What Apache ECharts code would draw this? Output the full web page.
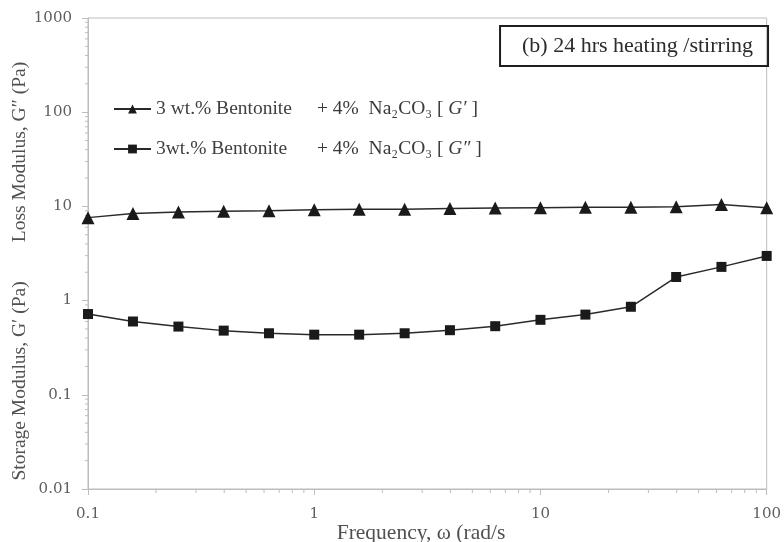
<!DOCTYPE html>
<html>
<head>
<meta charset="utf-8">
<script src="https://cdn.jsdelivr.net/npm/echarts@6/dist/echarts.min.js"></script>
<style>
  html, body { margin: 0; padding: 0; background: #fff; }
  #chart { width: 784px; height: 542px; }
</style>
</head>
<body>
<div id="chart"></div>
<script>
// Angular frequency sweep, rad/s (5 points per decade)
const frequency = [0.1, 0.158, 0.251, 0.398, 0.631, 1, 1.58, 2.51, 3.98, 6.31, 10, 15.8, 25.1, 39.8, 63.1, 100];
// 3 wt.% bentonite + 4% Na2CO3, after 24 hrs heating / stirring
const gPrime  = [7.6, 8.4, 8.7, 8.9, 9.0, 9.2, 9.3, 9.3, 9.5, 9.6, 9.7, 9.8, 9.8, 9.9, 10.5, 9.7];
const gDouble = [0.72, 0.60, 0.53, 0.48, 0.45, 0.435, 0.435, 0.45, 0.485, 0.535, 0.625, 0.71, 0.86, 1.78, 2.28, 2.98];

const seriesNames = ['3 wt.% Bentonite', '3wt.% Bentonite'];
const seriesTags  = ['G\u2032', 'G\u2033'];
const xTicks = [0.1, 1, 10, 100];
const yTicks = [0.01, 0.1, 1, 10, 100, 1000];

const SERIF = '"Liberation Serif", "Times New Roman", serif';
const NUM = '"DejaVu Serif", serif';

const chart = echarts.init(document.getElementById('chart'));

function pairs(xs, ys) { return xs.map((x, i) => [x, ys[i]]); }

const option = {
  backgroundColor: '#fff',
  animation: false,
  grid: { left: 88, right: 16, top: 18, bottom: 53, show: true, borderColor: '#bdbdbd', borderWidth: 1 },
  title: {
    text: '(b) 24 hrs heating /stirring',
    right: 16, top: 26,
    padding: [8, 15, 8, 22],
    borderWidth: 2, borderColor: '#1e1e1e',
    textStyle: { fontFamily: SERIF, fontSize: 22, lineHeight: 24, fontWeight: 'normal', color: '#2b2b2b' }
  },
  legend: {
    orient: 'vertical',
    left: 113, top: 98,
    padding: 0,
    itemWidth: 37, itemHeight: 11,
    itemGap: 18,
    data: seriesNames,
    formatter: function (name) {
      const i = seriesNames.indexOf(name);
      return '{a|' + name + '}{b|+ 4%  Na\u2082CO\u2083 [ }{g|' + seriesTags[i] + '}{b| ]}';
    },
    textStyle: {
      fontFamily: SERIF, fontSize: 19.5, color: '#404040', lineHeight: 22,
      rich: {
        a: { fontFamily: SERIF, fontSize: 19.5, color: '#404040', width: 161 },
        b: { fontFamily: SERIF, fontSize: 19.5, color: '#3a3a3a' },
        g: { fontFamily: SERIF, fontSize: 19.5, color: '#3a3a3a', fontStyle: 'italic' }
      }
    }
  },
  xAxis: {
    type: 'log', logBase: 10, min: 0.1, max: 100,
    axisLine: { show: true, lineStyle: { color: '#bdbdbd', width: 1 } },
    axisTick: { show: true, length: 6, lineStyle: { color: '#bdbdbd' } },
    splitLine: { show: false },
    axisLabel: {
      margin: 18, color: '#5e5e5e', fontFamily: NUM, fontSize: 15,
      formatter: v => String(+v.toPrecision(3))
    }
  },
  yAxis: {
    type: 'log', logBase: 10, min: 0.01, max: 1000,
    axisLine: { show: true, lineStyle: { color: '#bdbdbd', width: 1 } },
    axisTick: { show: true, length: 6, lineStyle: { color: '#bdbdbd' } },
    splitLine: { show: false },
    axisLabel: {
      margin: 16, color: '#5e5e5e', fontFamily: NUM, fontSize: 15,
      formatter: v => String(+v.toPrecision(3))
    }
  },
  series: [
    {
      name: seriesNames[0], type: 'line', data: pairs(frequency, gPrime),
      symbol: 'triangle', symbolSize: 13,
      lineStyle: { color: '#2a2a2a', width: 1.5 },
      itemStyle: { color: '#1a1a1a' }
    },
    {
      name: seriesNames[1], type: 'line', data: pairs(frequency, gDouble),
      symbol: 'rect', symbolSize: 10,
      lineStyle: { color: '#2a2a2a', width: 1.5 },
      itemStyle: { color: '#1a1a1a' }
    }
  ]
};
chart.setOption(option);

// Log-scale minor ticks (2..9 within each decade) and axis titles
const graphics = [];
const tickColor = '#bdbdbd';
const x0 = chart.convertToPixel({ gridIndex: 0 }, [xTicks[0], yTicks[0]]);
for (let d = 0; d < xTicks.length - 1; d++) {
  for (let m = 2; m <= 9; m++) {
    const p = chart.convertToPixel({ gridIndex: 0 }, [xTicks[d] * m, yTicks[0]]);
    graphics.push({ type: 'line', silent: true,
      shape: { x1: p[0], y1: x0[1], x2: p[0], y2: x0[1] + 4 },
      style: { stroke: tickColor, lineWidth: 1 } });
  }
}
for (let d = 0; d < yTicks.length - 1; d++) {
  for (let m = 2; m <= 9; m++) {
    const p = chart.convertToPixel({ gridIndex: 0 }, [xTicks[0], yTicks[d] * m]);
    graphics.push({ type: 'line', silent: true,
      shape: { x1: x0[0] - 3, y1: p[1], x2: x0[0], y2: p[1] },
      style: { stroke: tickColor, lineWidth: 1 } });
  }
}
const titleStyle = { fontFamily: SERIF, fontSize: 19.5, fill: '#505050', align: 'center', verticalAlign: 'middle' };
graphics.push({ type: 'text', silent: true, x: 20, y: 381, rotation: Math.PI / 2,
  style: Object.assign({ text: 'Storage Modulus, G\u2032 (Pa)' }, titleStyle) });
graphics.push({ type: 'text', silent: true, x: 20, y: 152, rotation: Math.PI / 2,
  style: Object.assign({ text: 'Loss Modulus, G\u2033 (Pa)' }, titleStyle) });
graphics.push({ type: 'text', silent: true, x: 421, y: 533,
  style: Object.assign({}, titleStyle, { text: 'Frequency, \u03c9 (rad/s', fontSize: 21.5 }) });
chart.setOption({ graphic: graphics });
</script>
</body>
</html>
